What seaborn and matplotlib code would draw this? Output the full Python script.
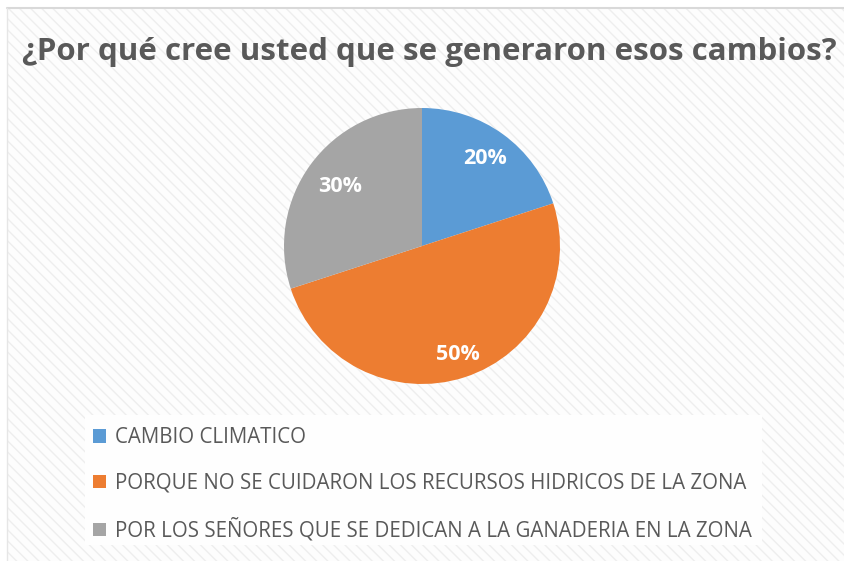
import numpy as np
import matplotlib
matplotlib.use("Agg")
import matplotlib.pyplot as plt
import seaborn as sns
from matplotlib.patches import Rectangle
from matplotlib.lines import Line2D

categories = [
    "CAMBIO CLIMATICO",
    "PORQUE NO SE CUIDARON LOS RECURSOS HIDRICOS DE LA ZONA",
    "POR LOS SEÑORES QUE SE DEDICAN A LA GANADERIA EN LA ZONA",
]
values = [20, 50, 30]
colors = ["#5B9BD5", "#ED7D31", "#A5A5A5"]
title = "¿Por qué cree usted que se generaron esos cambios?"

sns.set_theme(style="white")
plt.rcParams["font.family"] = ["Open Sans", "DejaVu Sans"]

W, H = 844, 561
fig = plt.figure(figsize=(W / 100, H / 100), dpi=100)
fig.patch.set_facecolor("white")

# striped background
bg = Rectangle((7 / W, 0), 1, 1 - 8 / H, transform=fig.transFigure,
               facecolor="#fdfdfd", edgecolor="#eeeeee", hatch="\\\\\\",
               linewidth=0, zorder=-5)
fig.patches.append(bg)
fig.add_artist(Line2D([7 / W, 1], [1 - 8 / H, 1 - 8 / H], transform=fig.transFigure,
                      color="#d9d9d9", linewidth=1.5))
fig.add_artist(Line2D([7 / W, 7 / W], [0, 1 - 8 / H], transform=fig.transFigure,
                      color="#e6e6e6", linewidth=1.0))

# legend box
fig.patches.append(Rectangle((85 / W, 1 - 545 / H), (762 - 85) / W, (545 - 415) / H,
                             transform=fig.transFigure, facecolor="#fefefe",
                             edgecolor="none", zorder=-4))

cx, cy, r = 422, 246, 138
ax = fig.add_axes([(cx - r) / W, (H - cy - r) / H, 2 * r / W, 2 * r / H])
ax.set_zorder(5)
ax.set_facecolor("none")
wedges, texts, autotexts = ax.pie(values, colors=colors, startangle=90, counterclock=False,
                                  autopct="%d%%", pctdistance=0.78, radius=1,
                                  wedgeprops=dict(linewidth=0),
                                  textprops=dict(color="white", fontsize=15.5, fontweight="bold"))
dists = [0.78, 0.83, 0.73]
for w, t, d in zip(wedges, autotexts, dists):
    ang = np.deg2rad((w.theta1 + w.theta2) / 2)
    t.set_position((d * np.cos(ang), d * np.sin(ang)))
ax.set_xlim(-1, 1)
ax.set_ylim(-1, 1)
ax.set_aspect("auto")
ax.axis("off")

fig.text(429 / W, 1 - 52 / H, title, ha="center", va="center",
         fontsize=22.5, fontweight="bold", color="#595959")

leg = fig.legend(wedges, categories, loc="upper left",
                 bbox_to_anchor=(85 / W, 1 - 419 / H), frameon=False,
                 fontsize=14.8, labelcolor="#595959", handlelength=0.6, handleheight=0.6,
                 handletextpad=0.45, labelspacing=1.19, borderaxespad=0)
fig.savefig("out.png", dpi=100)
